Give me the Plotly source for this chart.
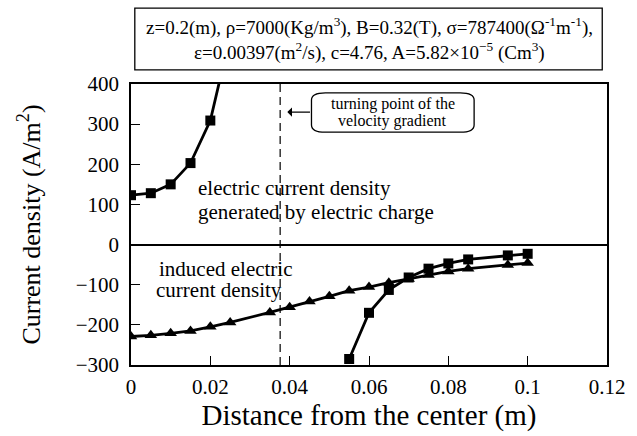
import plotly.graph_objects as go

# Data
charge_x = [0.0, 0.005, 0.01, 0.015, 0.02, 0.025]
charge_y = [123, 128, 150, 203, 309, 520]

charge2_x = [0.055, 0.06, 0.065, 0.07, 0.075, 0.08, 0.085, 0.095, 0.1]
charge2_y = [-285, -170, -113, -82, -60, -47, -37, -27, -23]

induced_x = [0.0, 0.005, 0.01, 0.015, 0.02, 0.025, 0.035, 0.04, 0.045, 0.05,
             0.055, 0.06, 0.065, 0.07, 0.075, 0.08, 0.085, 0.095, 0.1]
induced_y = [-229, -226, -221, -215, -205, -194, -169, -156, -142, -129,
             -115, -106, -95, -86, -76, -67, -60, -51, -46]

turning_x = 0.0376

x_ticks = [0, 0.02, 0.04, 0.06, 0.08, 0.1, 0.12]
x_tick_text = ["0", "0.02", "0.04", "0.06", "0.08", "0.1", "0.12"]
y_ticks = [-300, -200, -100, 0, 100, 200, 300, 400]

FONT = "Liberation Serif"

fig = go.Figure()

line_style = dict(color="black", width=2.8)
fig.add_trace(go.Scatter(x=charge_x, y=charge_y, mode="lines+markers",
                         line=line_style,
                         marker=dict(symbol="square", size=10, color="black"),
                         showlegend=False))
fig.add_trace(go.Scatter(x=charge2_x, y=charge2_y, mode="lines+markers",
                         line=line_style,
                         marker=dict(symbol="square", size=10, color="black"),
                         showlegend=False))
fig.add_trace(go.Scatter(x=induced_x, y=induced_y, mode="lines+markers",
                         line=line_style,
                         marker=dict(symbol="triangle-up", size=11, color="black"),
                         showlegend=False))

# turning point dashed line
fig.add_shape(type="line", x0=turning_x, x1=turning_x, y0=-300, y1=400,
              xref="x", yref="y", line=dict(color="black", width=1.2, dash="8px,5px"))

# rounded box for turning point label
bx0, bx1, by0, by1 = 0.0455, 0.0865, 280, 378
rx, ry = 0.0035, 18
path = (f"M {bx0+rx},{by0} L {bx1-rx},{by0} Q {bx1},{by0} {bx1},{by0+ry} "
        f"L {bx1},{by1-ry} Q {bx1},{by1} {bx1-rx},{by1} "
        f"L {bx0+rx},{by1} Q {bx0},{by1} {bx0},{by1-ry} "
        f"L {bx0},{by0+ry} Q {bx0},{by0} {bx0+rx},{by0} Z")
fig.add_shape(type="path", path=path, xref="x", yref="y",
              line=dict(color="black", width=1.3))
bcx = (bx0 + bx1) / 2
fig.add_annotation(x=bcx, y=350, xref="x", yref="y", text="turning point of the",
                   showarrow=False, font=dict(family=FONT, size=16, color="black"))
fig.add_annotation(x=bcx, y=308, xref="x", yref="y", text="velocity gradient",
                   showarrow=False, font=dict(family=FONT, size=16, color="black"))
fig.add_annotation(x=0.0394, y=330, xref="x", yref="y",
                   ax=bx0, ay=330, axref="x", ayref="y", text="",
                   showarrow=True, arrowhead=1, arrowsize=1.3, arrowwidth=1.2,
                   arrowcolor="black")

fig.add_annotation(x=0.0165, y=140, xref="x", yref="y", xanchor="left",
                   text="electric current density",
                   showarrow=False, font=dict(family=FONT, size=21, color="black"))
fig.add_annotation(x=0.0165, y=80, xref="x", yref="y", xanchor="left",
                   text="generated by electric charge",
                   showarrow=False, font=dict(family=FONT, size=21, color="black"))
fig.add_annotation(x=0.0066, y=-60, xref="x", yref="y", xanchor="left",
                   text="induced electric",
                   showarrow=False, font=dict(family=FONT, size=21, color="black"))
fig.add_annotation(x=0.0058, y=-114, xref="x", yref="y", xanchor="left",
                   text="current density",
                   showarrow=False, font=dict(family=FONT, size=21, color="black"))

# parameter box on top
fig.add_shape(type="rect", x0=0.008, x1=0.99, y0=1.05, y1=1.27,
              xref="paper", yref="paper", line=dict(color="black", width=1.3))
fig.add_annotation(x=0.5, y=1.205, xref="paper", yref="paper",
                   xanchor="center", yanchor="middle",
                   text=("z=0.2(m), ρ=7000(Kg/m<sup>3</sup>), B=0.32(T), "
                         "σ=787400(Ω<sup>-1</sup>m<sup>-1</sup>),"),
                   showarrow=False, font=dict(family=FONT, size=19, color="black"))
fig.add_annotation(x=0.5, y=1.115, xref="paper", yref="paper",
                   xanchor="center", yanchor="middle",
                   text=("ε=0.00397(m<sup>2</sup>/s), c=4.76, "
                         "A=5.82×10<sup>−5</sup> (Cm<sup>3</sup>)"),
                   showarrow=False, font=dict(family=FONT, size=19, color="black"))

fig.update_xaxes(range=[0, 0.12], tickvals=x_ticks, ticktext=x_tick_text,
                 ticks="inside", ticklen=9, tickwidth=1.2, tickcolor="black",
                 showline=True, linecolor="black", linewidth=1.5, mirror=True,
                 showgrid=False, zeroline=False, ticklabelstandoff=2,
                 tickfont=dict(family=FONT, size=21, color="black"),
                 title=dict(text="Distance from the center (m)",
                            font=dict(family=FONT, size=29, color="black"),
                            standoff=0))
fig.update_yaxes(range=[-300, 400], tickvals=y_ticks,
                 ticks="inside", ticklen=9, tickwidth=1.2, tickcolor="black",
                 showline=True, linecolor="black", linewidth=1.5, mirror=True,
                 showgrid=False, zeroline=True, zerolinecolor="black",
                 zerolinewidth=1.5, ticklabelstandoff=6,
                 tickfont=dict(family=FONT, size=21, color="black"),
                 title=dict(text="Current density (A/m<sup>2</sup>)",
                            font=dict(family=FONT, size=26, color="black"),
                            standoff=28))

fig.update_layout(width=637, height=436,
                  margin=dict(l=131, r=21, t=84, b=71),
                  plot_bgcolor="white", paper_bgcolor="white")

fig.write_html("out.html")
